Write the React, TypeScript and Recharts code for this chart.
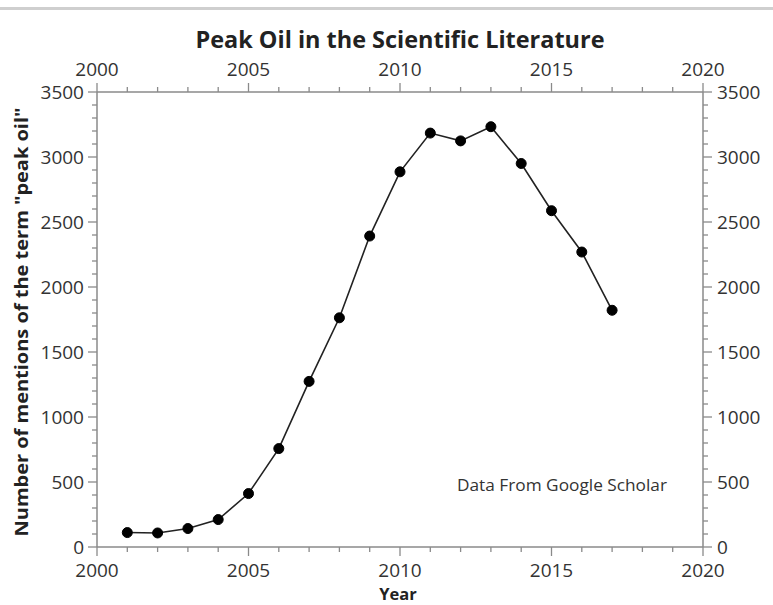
import React from "react";
import { LineChart, Line, XAxis, YAxis } from "recharts";

const years = [2001, 2002, 2003, 2004, 2005, 2006, 2007, 2008, 2009, 2010, 2011, 2012, 2013, 2014, 2015, 2016, 2017];
const mentions = [111, 108, 142, 211, 411, 757, 1274, 1763, 2392, 2886, 3184, 3124, 3233, 2950, 2587, 2269, 1821];
const xTicks = [2000, 2001, 2002, 2003, 2004, 2005, 2006, 2007, 2008, 2009, 2010, 2011, 2012, 2013, 2014, 2015, 2016, 2017, 2018, 2019, 2020];
const yTicks = [0, 100, 200, 300, 400, 500, 600, 700, 800, 900, 1000, 1100, 1200, 1300, 1400, 1500, 1600, 1700, 1800, 1900, 2000, 2100, 2200, 2300, 2400, 2500, 2600, 2700, 2800, 2900, 3000, 3100, 3200, 3300, 3400, 3500];
const title = "Peak Oil in the Scientific Literature";
const xLabel = "Year";
const yLabel = 'Number of mentions of the term "peak oil"';
const note = "Data From Google Scholar";

const data = years.map((y, i) => ({ year: y, value: mentions[i] }));

const FONT = "'Open Sans', sans-serif";
const AX = "#8a8a8a";
const TXT = "#333";
const TICK_FS = 19;

const BottomTick = (p: any) => {
  const { x, y, payload } = p;
  const major = payload.value % 5 === 0;
  return (
    <g>
      <line x1={x} x2={x} y1={y} y2={y + (major ? 9 : 5)} stroke={AX} strokeWidth={1.3} />
      {major && (
        <text x={x} y={y + 30} textAnchor="middle" fontSize={TICK_FS} fill={TXT} fontFamily={FONT}>
          {payload.value}
        </text>
      )}
    </g>
  );
};

const TopTick = (p: any) => {
  const { x, y, payload } = p;
  const major = payload.value % 5 === 0;
  return (
    <g>
      <line x1={x} x2={x} y1={y} y2={y - (major ? 9 : 5)} stroke={AX} strokeWidth={1.3} />
      {major && (
        <text x={x} y={y - 16} textAnchor="middle" fontSize={TICK_FS} fill={TXT} fontFamily={FONT}>
          {payload.value}
        </text>
      )}
    </g>
  );
};

const LeftTick = (p: any) => {
  const { x, y, payload } = p;
  const major = payload.value % 500 === 0;
  return (
    <g>
      <line x1={x} x2={x - (major ? 9 : 5)} y1={y} y2={y} stroke={AX} strokeWidth={1.3} />
      {major && (
        <text x={x - 13} y={y + 6.5} textAnchor="end" fontSize={TICK_FS} fill={TXT} fontFamily={FONT}>
          {payload.value}
        </text>
      )}
    </g>
  );
};

const RightTick = (p: any) => {
  const { x, y, payload } = p;
  const major = payload.value % 500 === 0;
  return (
    <g>
      <line x1={x} x2={x + (major ? 9 : 5)} y1={y} y2={y} stroke={AX} strokeWidth={1.3} />
      {major && (
        <text x={x + 14} y={y + 6.5} textAnchor="start" fontSize={TICK_FS} fill={TXT} fontFamily={FONT}>
          {payload.value}
        </text>
      )}
    </g>
  );
};

export default function App() {
  return (
    <div style={{ position: "absolute", left: 0, top: 0, width: 773, height: 605, background: "#fff" }}>
      <div style={{ position: "absolute", left: 0, top: 7, width: 773, height: 3, background: "#cfcfcf" }} />
      <LineChart
        width={773}
        height={605}
        data={data}
        margin={{ top: 57, right: 0, bottom: 0, left: 0 }}
      >
        <XAxis
          xAxisId="b"
          dataKey="year"
          type="number"
          orientation="bottom"
          domain={[2000, 2020]}
          ticks={xTicks}
          interval={0}
          height={58}
          tickSize={0}
          tickMargin={0}
          tickLine={false}
          tick={<BottomTick />}
          axisLine={{ stroke: AX, strokeWidth: 1.5 }}
          allowDataOverflow
        />
        <XAxis
          xAxisId="t"
          dataKey="year"
          type="number"
          orientation="top"
          domain={[2000, 2020]}
          ticks={xTicks}
          interval={0}
          height={35}
          tickSize={0}
          tickMargin={0}
          tickLine={false}
          tick={<TopTick />}
          axisLine={{ stroke: AX, strokeWidth: 1.5 }}
          allowDataOverflow
        />
        <YAxis
          yAxisId="l"
          type="number"
          orientation="left"
          domain={[0, 3500]}
          ticks={yTicks}
          interval={0}
          width={97}
          tickSize={0}
          tickMargin={0}
          tickLine={false}
          tick={<LeftTick />}
          axisLine={{ stroke: AX, strokeWidth: 1.5 }}
          allowDataOverflow
        />
        <YAxis
          yAxisId="r"
          type="number"
          orientation="right"
          domain={[0, 3500]}
          ticks={yTicks}
          interval={0}
          width={70}
          tickSize={0}
          tickMargin={0}
          tickLine={false}
          tick={<RightTick />}
          axisLine={{ stroke: AX, strokeWidth: 1.5 }}
          allowDataOverflow
        />
        <Line
          xAxisId="t"
          yAxisId="r"
          dataKey="value"
          stroke="none"
          dot={false}
          activeDot={false}
          isAnimationActive={false}
        />
        <Line
          xAxisId="b"
          yAxisId="l"
          dataKey="value"
          type="linear"
          stroke="#222"
          strokeWidth={1.6}
          dot={{ r: 5, fill: "#000", stroke: "#000", strokeWidth: 1 }}
          activeDot={false}
          isAnimationActive={false}
        />
      </LineChart>
      <svg
        width={773}
        height={605}
        style={{ position: "absolute", left: 0, top: 0, pointerEvents: "none" }}
      >
        <text x={400} y={48} textAnchor="middle" fontSize={23} fontWeight="bold" fill="#222" fontFamily={FONT}
          textLength={409} lengthAdjust="spacingAndGlyphs">
          {title}
        </text>
        <text x={398} y={600} textAnchor="middle" fontSize={16.5} fontWeight="bold" fill="#222" fontFamily={FONT}>
          {xLabel}
        </text>
        <text
          x={0}
          y={0}
          transform="translate(28,322) rotate(-90)"
          textAnchor="middle"
          fontSize={18.5}
          fontWeight="bold"
          fill="#222"
          fontFamily={FONT}
          textLength={429}
          lengthAdjust="spacingAndGlyphs"
        >
          {yLabel}
        </text>
        <text x={562} y={491} textAnchor="middle" fontSize={17} fill={TXT} fontFamily={FONT}
          textLength={210} lengthAdjust="spacingAndGlyphs">
          {note}
        </text>
      </svg>
    </div>
  );
}
